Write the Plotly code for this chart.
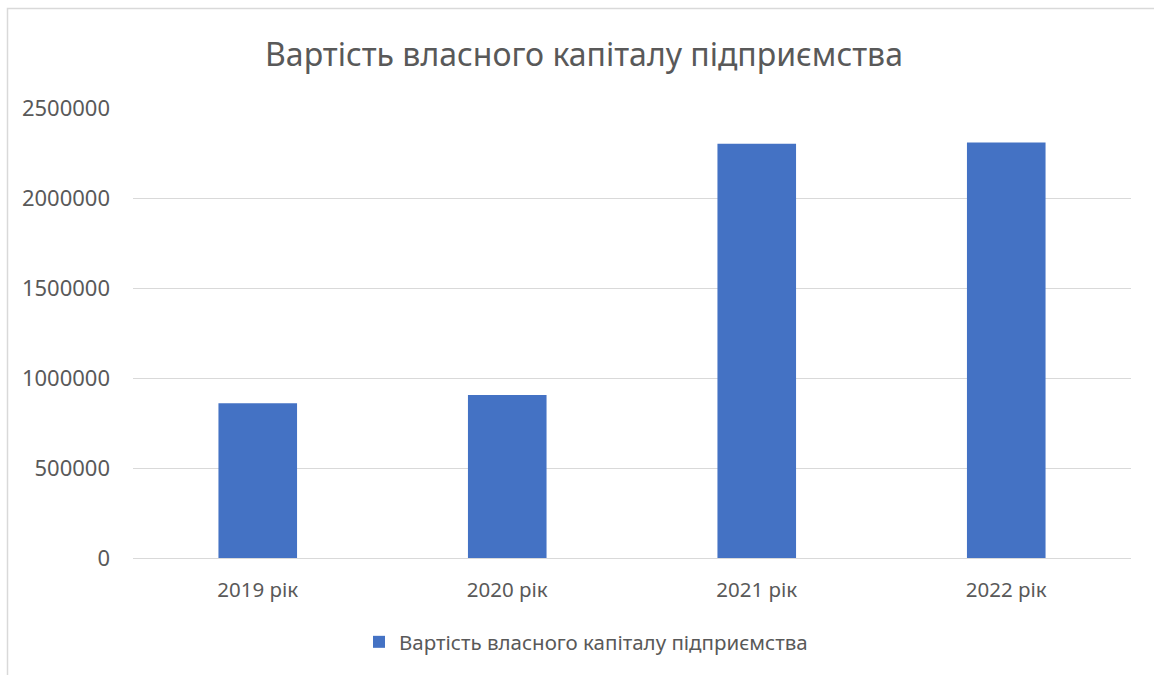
import plotly.graph_objects as go

categories = ["2019 рік", "2020 рік", "2021 рік", "2022 рік"]
values = [860000, 906000, 2301000, 2308000]
series_name = "Вартість власного капіталу підприємства"
title_text = "Вартість власного капіталу підприємства"
y_ticks = [0, 500000, 1000000, 1500000, 2000000, 2500000]

W, H = 1154, 675
L, R, T, B = 133, 23, 108, 117
pw = W - L - R
ph = H - T - B

font_family = "Noto Sans"
text_color = "#595959"

fig = go.Figure()
fig.add_trace(go.Bar(
    x=categories, y=values, name=series_name,
    marker=dict(color="#4472C4", line=dict(width=0)),
))

fig.update_layout(
    width=W, height=H,
    margin=dict(l=L, r=R, t=T, b=B, autoexpand=False),
    paper_bgcolor="white", plot_bgcolor="white",
    bargap=0.685,
    font=dict(family=font_family, color=text_color),
    title=dict(text=title_text, x=584 / W, xanchor="center", y=1 - 55 / H, yanchor="middle",
               font=dict(size=32, color=text_color, family=font_family)),
    showlegend=True,
    legend=dict(orientation="h", x=(586 - L) / pw, xanchor="center",
                y=-(642 - (T + ph)) / ph, yanchor="middle",
                font=dict(size=20.5, color=text_color), itemwidth=30,
                bgcolor="rgba(0,0,0,0)"),
    xaxis=dict(showgrid=False, showline=False, zeroline=False, ticks="",
               tickfont=dict(size=20.5, color=text_color), ticklabelstandoff=17),
    yaxis=dict(range=[0, 2500000], tickvals=y_ticks, ticktext=[str(v) for v in y_ticks],
               showgrid=True, gridcolor="#D9D9D9", gridwidth=1,
               zeroline=True, zerolinecolor="#D9D9D9", zerolinewidth=1,
               showline=False, ticks="", tickfont=dict(size=22, color=text_color),
               ticklabelstandoff=22),
)

# chart-area border (extends past right and bottom edges as in reference)
fig.add_shape(type="rect", xref="paper", yref="paper",
              x0=(7.5 - L) / pw, x1=(W + 20 - L) / pw,
              y0=-(H + 20 - (T + ph)) / ph, y1=1 + (T - 8.5) / ph,
              line=dict(color="#D9D9D9", width=1.5), fillcolor="rgba(0,0,0,0)", layer="below")

fig.write_html("out.html", config={"displayModeBar": False},
               post_script="document.body.style.margin='0';")
